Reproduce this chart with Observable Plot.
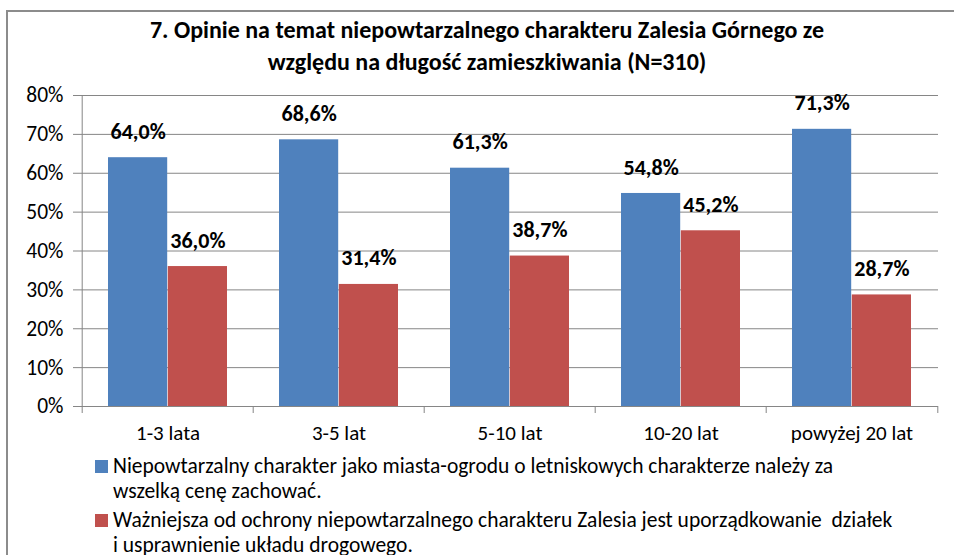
<!DOCTYPE html>
<html>
<head>
<meta charset="utf-8">
<script src="https://cdn.jsdelivr.net/npm/d3@7"></script>
<script src="https://cdn.jsdelivr.net/npm/@observablehq/plot@0.6"></script>
<style>
  html, body { margin: 0; padding: 0; background: #fff; overflow: hidden; }
  body { width: 954px; height: 555px; position: relative; font-family: Carlito, Lato, "Liberation Sans", sans-serif; color: #000; }
  #frame { position: absolute; left: 6px; top: 10px; width: 1000px; height: 600px; border: 2px solid #8c8c8c; box-sizing: border-box; }
  #title { position: absolute; left: 0; top: 14px; width: 974px; text-align: center; font-weight: bold; font-size: 24px; line-height: 32px; }
  #chart { position: absolute; left: 0; top: 80px; }
  #legend { position: absolute; left: 95px; top: 454px; font-size: 21.5px; line-height: 25px; }
  .item { position: relative; padding-left: 18px; margin-bottom: 4px; white-space: pre; }
  .sw { position: absolute; left: 0; top: 6px; width: 13px; height: 13px; }
</style>
</head>
<body>
<div id="frame"></div>
<div id="title">7. Opinie na temat niepowtarzalnego charakteru Zalesia Górnego ze<br>względu na długość zamieszkiwania (N=310)</div>
<div id="chart"></div>
<div id="legend"></div>
<script>
const categories = ["1-3 lata", "3-5 lat", "5-10 lat", "10-20 lat", "powyżej 20 lat"];
const seriesNames = [
  "Niepowtarzalny charakter jako miasta-ogrodu o letniskowych charakterze należy za\nwszelką cenę zachować.",
  "Ważniejsza od ochrony niepowtarzalnego charakteru Zalesia jest uporządkowanie  działek\ni usprawnienie układu drogowego."
];
const blueValues = [64.0, 68.6, 61.3, 54.8, 71.3];
const redValues = [36.0, 31.4, 38.7, 45.2, 28.7];
const yTicks = [0, 10, 20, 30, 40, 50, 60, 70, 80];
const colors = ["#4F81BD", "#C0504D"];

const blue = categories.map((c, i) => ({cat: c, v: blueValues[i]}));
const red = categories.map((c, i) => ({cat: c, v: redValues[i]}));
const fmt = v => v.toFixed(1).replace(".", ",") + "%";

const W = 954, H = 380, mL = 80, mR = 16, mT = 15, mB = 54;
const bw = (W - mL - mR) / categories.length;
const outer = 26, barW = (bw - 2 * outer) / 2;
const font = "Carlito, Lato, 'Liberation Sans', sans-serif";

const chart = Plot.plot({
  width: W, height: H,
  marginLeft: mL, marginRight: mR, marginTop: mT, marginBottom: mB,
  style: {fontFamily: font, color: "#000", background: "transparent", overflow: "visible"},
  x: {domain: categories, padding: 0},
  y: {domain: [0, 80]},
  marks: [
    Plot.gridY(yTicks, {stroke: "#868686", strokeOpacity: 1, strokeWidth: 1}),
    Plot.axisY(yTicks, {tickSize: 7, tickPadding: 10, fontSize: 21.5, tickFormat: d => d + "%", label: null, stroke: "#868686"}),
    Plot.axisX({tickSize: 0, tickPadding: 19, fontSize: 21, label: null}),
    Plot.barY(blue, {x: "cat", y: "v", fill: colors[0], insetLeft: outer, insetRight: outer + barW}),
    Plot.barY(red, {x: "cat", y: "v", fill: colors[1], insetLeft: outer + barW, insetRight: outer}),
    Plot.ruleY([0], {stroke: "#868686"}),
    Plot.ruleX([categories[0]], {y1: 0, y2: 80, dx: -bw / 2, insetTop: 7, stroke: "#868686"}),
    Plot.ruleX(categories.slice(1), {y1: 0, y2: 0, dx: -bw / 2, insetTop: 7, stroke: "#868686"}),
    Plot.ruleX([categories[categories.length - 1]], {y1: 0, y2: 0, dx: bw / 2, insetTop: 7, stroke: "#868686"}),
    Plot.text(blue, {x: "cat", y: "v", text: d => fmt(d.v), dx: -(barW / 2), dy: -26, fontSize: 22, fontWeight: "bold", fill: "#000"}),
    Plot.text(red, {x: "cat", y: "v", text: d => fmt(d.v), dx: barW / 2, dy: -26, fontSize: 22, fontWeight: "bold", fill: "#000"})
  ]
});
document.getElementById("chart").appendChild(chart);

const legend = document.getElementById("legend");
seriesNames.forEach((name, i) => {
  const item = document.createElement("div");
  item.className = "item";
  const sw = document.createElement("span");
  sw.className = "sw";
  sw.style.background = colors[i];
  item.appendChild(sw);
  name.split("\n").forEach((line, j) => {
    if (j) item.appendChild(document.createElement("br"));
    item.appendChild(document.createTextNode(line));
  });
  legend.appendChild(item);
});
</script>
</body>
</html>
